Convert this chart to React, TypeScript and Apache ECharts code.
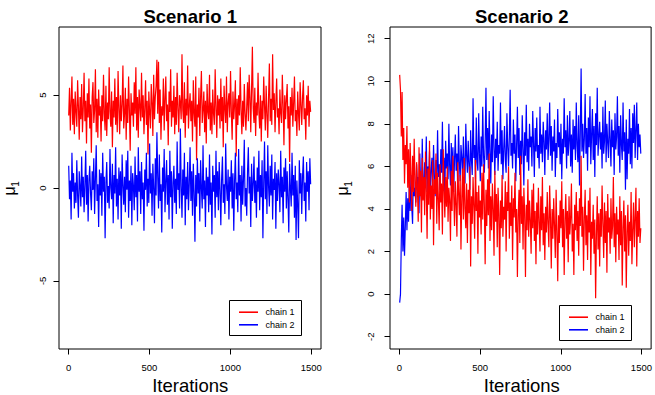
import React, { useEffect, useRef } from "react";
import * as echarts from "echarts";

// ---- data (every 5th draw of 1500 iterations) ----
const thinStep = 5;
const chainNames = ["chain 1", "chain 2"];
const chainColors = ["#ff0000", "#0000ff"];
const panelTitles = ["Scenario 1", "Scenario 2"];
const xTicks = [0, 500, 1000, 1500];
const yTicksS1 = [-5, 0, 5];
const yTicksS2 = [-2, 0, 2, 4, 6, 8, 10, 12];

const s1Chain1 = [
  3.9, 5.4, 3.1, 4.6, 6.0, 3.4, 4.8, 2.9, 5.2, 4.1,
  3.3, 5.8, 4.4, 2.6, 4.9, 3.7, 5.6, 3.0, 4.3, 6.2,
  3.6, 4.7, 2.4, 5.1, 3.8, 5.9, 3.2, 4.5, 1.9, 4.9,
  5.7, 3.5, 4.2, 6.4, 3.0, 4.8, 2.7, 5.3, 3.9, 4.4,
  2.5, 5.0, 3.6, 6.1, 4.0, 3.1, 5.5, 2.8, 4.6, 3.7,
  6.5, 4.1, 3.3, 5.2, 2.2, 4.7, 3.8, 5.9, 3.4, 4.9,
  3.0, 6.3, 4.3, 2.9, 5.0, 3.6, 4.5, 6.6, 3.2, 4.0,
  5.4, 2.6, 4.8, 3.5, 6.0, 4.2, 2.0, 5.1, 3.9, 4.6,
  3.3, 5.7, 4.0, 6.5, 3.1, 4.9, 2.7, 5.3, 4.4, 3.6,
  6.2, 3.8, 5.0, 2.9, 4.3, 5.8, 3.4, 4.7, 1.8, 5.2,
  4.1, 3.2, 5.6, 4.6, 2.8, 6.1, 3.7, 4.9, 5.5, 6.9,
  4.0, 6.8, 3.5, 5.3, 2.6, 4.4, 3.9, 5.9, 3.1, 4.8,
  6.0, 3.6, 4.5, 2.3, 5.2, 4.1, 6.4, 3.3, 4.7, 3.8,
  5.5, 2.9, 4.9, 3.4, 6.2, 4.3, 3.0, 5.0, 4.6, 3.7,
  7.2, 4.2, 3.5, 5.7, 2.7, 4.8, 3.9, 6.6, 3.2, 4.4,
  5.1, 3.6, 4.7, 2.5, 5.8, 4.0, 3.3, 6.0, 1.5, 4.5,
  3.8, 5.4, 2.8, 4.9, 6.3, 3.5, 4.2, 5.2, 3.0, 4.7,
  2.4, 5.6, 4.1, 3.7, 6.1, 3.1, 4.6, 2.9, 5.3, 4.0,
  3.4, 6.4, 4.4, 2.7, 5.0, 3.9, 4.8, 3.2, 5.9, 3.6,
  4.9, 2.2, 5.5, 4.3, 3.5, 6.0, 3.0, 4.6, 5.1, 3.8,
  6.3, 4.1, 2.6, 5.2, 3.7, 4.5, 5.8, 1.7, 4.8, 3.4,
  5.0, 3.9, 6.5, 4.2, 2.9, 4.7, 3.3, 5.6, 4.0, 3.1,
  4.4, 5.7, 3.6, 6.1, 4.9, 3.0, 5.3, 7.6, 4.3, 3.5,
  5.4, 2.8, 4.6, 3.9, 6.2, 4.1, 3.2, 5.0, 2.5, 4.7,
  3.7, 6.0, 4.4, 3.1, 5.5, 4.0, 2.7, 4.9, 6.7, 3.6,
  4.8, 3.4, 7.2, 4.2, 5.1, 3.0, 4.6, 5.9, 3.8, 4.3,
  2.9, 5.3, 4.0, 3.5, 6.1, 4.5, 2.3, 5.0, 3.7, 4.8,
  5.6, 3.2, 4.4, 1.4, 4.9, 3.9, 5.4, 3.3, 4.6, 6.0,
  3.6, 4.2, 2.8, 5.2, 4.0, 3.1, 5.7, 4.5, 3.4, 4.9,
  5.8, 3.7, 4.3, 2.6, 5.0, 3.9, 5.5, 3.3, 4.7, 4.1,
];

const s1Chain2 = [
  1.2, -0.6, 0.4, -1.7, 1.9, -0.2, 0.8, -1.1, 0.3, -0.8,
  1.5, -0.4, -1.6, 0.9, 0.1, -1.0, 1.7, -0.5, 0.6, -1.3,
  0.2, 2.0, -0.9, 0.7, -1.8, 0.4, 1.2, -0.3, -1.2, 0.9,
  -0.1, 1.6, -1.4, 0.5, 2.3, -0.7, 0.2, -2.1, 1.0, -0.4,
  0.8, -1.5, 1.9, -0.2, 0.6, -2.7, 0.3, 1.4, -0.8, 0.1,
  -1.1, 2.1, 0.0, -0.6, 1.3, -1.9, 0.7, -0.3, 2.2, -1.0,
  0.5, -1.7, 1.1, -0.4, 0.9, -2.2, 1.8, 0.2, -0.9, 0.6,
  -1.3, 1.5, -0.1, 2.0, -1.6, 0.4, -0.7, 1.2, -2.0, 0.8,
  0.1, -1.2, 1.7, -0.5, 0.7, -1.8, 2.2, -0.2, 0.9, -1.4,
  1.4, -0.6, 0.3, -2.3, 1.0, -0.1, 1.9, -1.0, 0.5, -0.8,
  2.4, -0.3, 0.8, -1.5, 1.3, 0.0, -1.9, 1.6, -0.4, 3.0,
  0.6, -1.1, 1.8, -0.7, 0.2, -2.4, 1.1, -0.2, 2.1, -1.3,
  0.4, 1.5, -0.9, 0.7, -1.7, 2.0, -0.5, 0.9, -2.2, 0.3,
  1.2, -0.8, 0.5, -1.4, 2.5, -0.1, 0.8, -1.1, 3.2, 0.1,
  -1.6, 1.0, -0.4, 1.9, -2.0, 0.6, -0.6, 1.4, -1.2, 0.2,
  2.2, -0.7, 0.9, -1.5, 1.3, -0.2, -2.9, 0.7, -1.0, 1.6,
  -0.3, 0.8, -1.8, 1.5, 0.0, -1.1, 2.3, -0.6, 0.4, -2.1,
  1.1, -0.4, 0.6, -1.3, 1.8, -0.9, 0.3, -2.5, 1.2, -0.2,
  0.7, -1.6, 2.0, -0.5, 0.9, -1.2, 1.4, -0.1, -2.0, 0.5,
  1.7, -0.8, 0.2, -1.4, 2.4, 0.1, -0.7, 1.0, -1.7, 0.6,
  -0.2, 1.5, -1.1, 0.8, -2.3, 0.4, 1.9, -0.6, 0.3, -1.3,
  2.1, -0.4, 0.7, -1.8, 1.2, -0.9, 0.5, 2.6, -1.0, 0.0,
  -1.5, 0.9, 2.2, -0.3, 0.6, -2.1, 1.3, -0.7, 0.2, 1.7,
  -0.8, 0.4, -1.6, 1.1, -0.2, 2.0, -1.2, 0.7, -0.5, 1.5,
  -2.7, 0.3, 2.5, -0.6, 0.9, -1.4, 2.3, 0.1, -1.0, 1.2,
  -0.4, 1.8, -1.7, 0.5, -0.1, 1.4, -2.2, 0.8, -0.7, 1.0,
  0.2, -1.3, 2.0, -0.5, 0.6, -1.9, 1.1, -0.2, 1.6, -1.1,
  0.9, -0.6, -2.4, 1.3, 0.0, -1.0, 1.9, -0.4, 0.7, -1.6,
  1.2, -2.8, 0.4, -0.9, -2.7, 1.5, -0.3, 0.8, -1.4, 0.6,
  1.7, -0.7, 0.3, -1.8, 1.4, -0.2, 0.9, -1.2, 1.6, 0.2,
];

const s2Chain1 = [
  10.3, 9.6, 7.4, 9.5, 6.3, 7.8, 5.2, 7.0, 6.1, 7.9,
  5.0, 6.8, 4.3, 7.1, 5.6, 3.9, 6.5, 4.8, 7.3, 5.3,
  4.1, 6.2, 5.0, 3.4, 6.9, 4.6, 5.8, 2.9, 6.4, 4.4,
  5.5, 3.7, 6.7, 4.9, 2.6, 5.9, 4.2, 7.2, 3.5, 5.1,
  4.0, 6.3, 2.3, 5.4, 4.7, 6.6, 3.3, 5.7, 4.5, 3.0,
  6.1, 4.3, 5.2, 2.8, 6.8, 4.9, 3.6, 5.5, 4.1, 6.0,
  3.4, 5.0, 4.4, 2.5, 5.8, 3.9, 6.5, 4.7, 3.2, 5.3,
  4.2, 2.7, 6.2, 4.8, 3.7, 5.6, 2.1, 4.5, 5.9, 3.5,
  6.4, 4.0, 3.1, 5.2, 2.4, 4.9, 3.8, 6.0, 1.3, 4.6,
  3.3, 5.5, 4.1, 2.6, 6.3, 3.9, 4.8, 1.9, 5.1, 3.6,
  4.4, 2.8, 5.7, 3.5, 6.1, 4.2, 1.4, 4.9, 3.2, 5.4,
  3.7, 6.6, 2.5, 4.6, 3.0, 5.2, 4.0, 1.8, 5.8, 3.4,
  4.7, 2.2, 5.0, 3.8, 0.9, 4.4, 3.1, 5.6, 2.7, 4.1,
  3.5, 5.3, 2.0, 4.8, 3.9, 6.0, 2.6, 4.3, 3.2, 5.1,
  1.6, 4.5, 3.6, 5.7, 2.9, 4.0, 0.8, 3.7, 4.9, 2.4,
  6.5, 3.3, 4.6, 2.1, 5.0, 3.8, 0.8, 4.2, 3.0, 5.4,
  2.7, 4.4, 3.5, 1.9, 4.9, 3.1, 5.2, 2.5, 3.9, 1.4,
  4.3, 2.8, 5.0, 3.4, 2.0, 4.6, 3.0, 5.5, 2.3, 3.8,
  1.6, 4.1, 2.9, 4.8, 3.3, 2.2, 5.1, 3.6, 1.2, 4.0,
  2.6, 4.5, 3.2, 1.7, 4.9, 2.9, 0.6, 3.7, 2.4, 4.4,
  3.1, 5.3, 2.2, 4.0, 0.9, 3.5, 4.7, 2.6, 3.9, 1.5,
  4.6, 2.8, 3.6, 5.2, 2.0, 3.3, 0.9, 4.2, 3.0, 4.8,
  2.5, 3.9, 1.8, 4.5, 3.2, 6.5, 2.7, 4.1, 1.1, 3.6,
  4.9, 2.3, 3.7, 1.6, 4.4, 2.9, 5.0, 0.9, 3.4, 2.6,
  4.2, 1.9, 3.5, -0.2, 2.8, 4.6, 2.1, 3.8, 1.3, 4.0,
  2.7, 5.1, 3.3, 1.7, 4.3, 2.4, 3.9, 1.0, 4.7, 2.9,
  3.6, 1.9, 4.5, 2.6, 3.2, 5.5, 2.2, 3.8, 1.5, 4.1,
  2.8, 3.5, 1.6, 4.6, 2.3, 3.9, 0.4, 3.1, 4.4, 2.0,
  3.7, 0.3, 2.9, 4.2, 1.8, 3.4, 2.5, 4.8, 1.4, 3.0,
  4.3, 2.2, 3.6, 5.0, 1.3, 3.9, 2.7, 4.5, 2.4, 3.1,
];

const s2Chain2 = [
  -0.4, 0.0, 2.5, 4.2, 2.0, 3.6, 1.8, 3.2, 4.8, 3.0,
  4.5, 3.4, 5.2, 3.9, 5.6, 4.1, 3.3, 5.9, 4.6, 5.0,
  4.3, 6.1, 4.9, 5.5, 3.8, 6.6, 5.0, 4.4, 7.3, 5.3,
  4.7, 6.2, 5.4, 7.4, 4.8, 6.0, 5.1, 6.7, 4.5, 5.8,
  6.4, 5.0, 7.0, 5.6, 4.6, 6.3, 5.3, 7.7, 5.5, 6.1,
  4.9, 6.8, 5.7, 8.1, 5.2, 6.4, 4.7, 7.2, 5.9, 6.6,
  5.4, 8.0, 6.0, 5.1, 7.1, 5.6, 6.9, 4.8, 6.3, 7.5,
  5.8, 6.6, 5.0, 7.9, 6.2, 5.3, 7.0, 6.4, 5.5, 7.4,
  6.0, 5.2, 8.0, 6.5, 5.7, 7.2, 6.1, 4.9, 7.7, 6.3,
  5.6, 9.2, 6.4, 7.0, 5.4, 8.3, 6.2, 5.8, 8.5, 6.6,
  5.3, 7.4, 6.0, 8.8, 6.5, 5.7, 7.1, 9.7, 6.3, 7.8,
  5.9, 8.6, 6.7, 5.2, 7.5, 6.2, 9.3, 6.9, 5.6, 7.3,
  6.4, 8.1, 5.8, 7.0, 6.6, 9.0, 6.1, 7.7, 5.4, 6.8,
  7.9, 6.3, 5.7, 8.5, 6.9, 6.0, 7.4, 9.6, 6.5, 7.1,
  5.9, 8.2, 6.6, 7.5, 5.3, 7.0, 8.8, 6.4, 7.8, 5.6,
  7.2, 6.1, 8.4, 6.8, 5.1, 7.6, 6.5, 8.9, 6.2, 7.3,
  5.8, 8.0, 6.9, 7.4, 6.0, 8.6, 7.1, 5.5, 7.8, 6.7,
  8.3, 6.4, 7.0, 5.9, 8.8, 6.6, 7.5, 6.2, 8.1, 7.2,
  5.6, 7.7, 6.8, 8.5, 6.3, 7.3, 9.0, 6.5, 7.9, 5.8,
  7.4, 6.7, 8.2, 5.5, 7.1, 6.4, 8.7, 6.9, 7.6, 6.1,
  8.0, 5.4, 7.3, 6.6, 9.2, 6.9, 7.7, 5.9, 8.4, 6.5,
  7.2, 8.6, 6.0, 7.5, 5.7, 8.2, 6.8, 7.9, 6.3, 9.0,
  7.0, 6.2, 8.4, 5.1, 7.6, 10.6, 6.7, 8.0, 6.4, 7.3,
  9.4, 6.6, 7.8, 5.8, 8.3, 6.9, 9.3, 6.1, 7.5, 8.7,
  6.3, 7.9, 5.5, 8.5, 7.0, 9.7, 6.5, 7.4, 8.1, 6.8,
  7.6, 5.9, 8.8, 6.6, 7.2, 9.1, 6.2, 8.0, 7.1, 6.4,
  8.6, 7.3, 6.0, 8.2, 6.9, 7.7, 5.6, 8.5, 6.8, 7.4,
  9.3, 6.5, 7.9, 5.7, 8.4, 7.0, 6.3, 9.0, 6.7, 7.6,
  4.9, 8.2, 5.4, 7.3, 6.6, 8.7, 6.1, 7.8, 5.9, 8.5,
  7.1, 8.9, 6.4, 7.7, 9.0, 6.3, 8.0, 6.9, 7.5, 6.6,
];

const FONT = "'Liberation Sans', Arial, Helvetica, sans-serif";

const toPairs = (vals: number[]) => vals.map((v, i) => [1 + i * thinStep, v]);

function makeLegend(x: number, y: number) {
  return [
    {
      type: "rect",
      z: 100,
      shape: { x, y, width: 72, height: 35 },
      style: { fill: "#ffffff", stroke: "#000000", lineWidth: 1 },
    },
    ...chainNames.flatMap((name, k) => [
      {
        type: "line",
        z: 101,
        shape: { x1: x + 9.5, y1: y + 11.7 + k * 12.6, x2: x + 28.5, y2: y + 11.7 + k * 12.6 },
        style: { stroke: chainColors[k], lineWidth: 1.6 },
      },
      {
        type: "text",
        z: 101,
        x: x + 36,
        y: y + 11.7 + k * 12.6,
        style: {
          text: name,
          fontFamily: FONT,
          fontSize: 9,
          fill: "#000000",
          textAlign: "left",
          textVerticalAlign: "middle",
        },
      },
    ]),
  ];
}

function muLabel(cx: number) {
  return [
    {
      type: "text",
      z: 100,
      x: cx,
      y: 191,
      rotation: Math.PI / 2,
      style: {
        text: "μ",
        fontFamily: FONT,
        fontSize: 16,
        fill: "#000000",
        textAlign: "center",
        textVerticalAlign: "middle",
      },
    },
    {
      type: "text",
      z: 100,
      x: cx + 5.5,
      y: 184,
      rotation: Math.PI / 2,
      style: {
        text: "1",
        fontFamily: FONT,
        fontSize: 10,
        fill: "#000000",
        textAlign: "center",
        textVerticalAlign: "middle",
      },
    },
  ];
}

function bigText(text: string, x: number, y: number, bold: boolean) {
  return {
    type: "text",
    z: 100,
    x,
    y,
    style: {
      text,
      fontFamily: FONT,
      fontSize: 18.5,
      fontWeight: bold ? "bold" : "normal",
      fill: "#000000",
      textAlign: "center",
      textVerticalAlign: "middle",
    },
  };
}

export default function App() {
  const ref = useRef<HTMLDivElement>(null);

  useEffect(() => {
    document.body.style.margin = "0";
    if (!ref.current) return;
    const chart = echarts.init(ref.current, undefined, { renderer: "svg" });

    const grids = [
      { left: 59, top: 27, width: 262, height: 322 },
      { left: 390, top: 27, width: 263, height: 322 },
    ];

    const xAxis = grids.map((_, g) => ({
      type: "value",
      gridIndex: g,
      min: -59,
      max: 1560,
      axisLine: { show: false, onZero: false },
      splitLine: { show: false },
      axisTick: {
        show: true,
        length: 5.5,
        customValues: xTicks,
        lineStyle: { color: "#000000", width: 1 },
      },
      axisLabel: {
        customValues: xTicks,
        formatter: (v: number) => String(v),
        fontFamily: FONT,
        fontSize: 9.5,
        color: "#000000",
        margin: 13,
      },
    }));

    const yTickSets = [yTicksS1, yTicksS2];
    const yRanges = [
      [-8.67, 8.67],
      [-2.58, 12.55],
    ];
    const yMargins = [12, 15];
    const yAxis = grids.map((_, g) => ({
      type: "value",
      gridIndex: g,
      min: yRanges[g][0],
      max: yRanges[g][1],
      axisLine: { show: false, onZero: false },
      splitLine: { show: false },
      axisTick: {
        show: true,
        length: 5.5,
        customValues: yTickSets[g],
        lineStyle: { color: "#000000", width: 1 },
      },
      axisLabel: {
        customValues: yTickSets[g],
        formatter: (v: number) => String(v),
        rotate: 90,
        fontFamily: FONT,
        fontSize: 9.5,
        color: "#000000",
        margin: yMargins[g],
      },
    }));

    const mkSeries = (name: string, color: string, g: number, vals: number[]) => ({
      type: "line",
      name,
      xAxisIndex: g,
      yAxisIndex: g,
      data: toPairs(vals),
      showSymbol: false,
      symbol: "none",
      silent: true,
      lineStyle: { color, width: 1.2 },
      itemStyle: { color },
    });

    chart.setOption({
      animation: false,
      backgroundColor: "#ffffff",
      grid: grids.map((g) => ({
        ...g,
        show: true,
        borderColor: "#000000",
        borderWidth: 1,
        backgroundColor: "transparent",
      })),
      xAxis,
      yAxis,
      series: [
        mkSeries(chainNames[0], chainColors[0], 0, s1Chain1),
        mkSeries(chainNames[1], chainColors[1], 0, s1Chain2),
        mkSeries(chainNames[1], chainColors[1], 1, s2Chain2),
        mkSeries(chainNames[0], chainColors[0], 1, s2Chain1),
      ],
      graphic: [
        bigText(panelTitles[0], 190.2, 16.5, true),
        bigText(panelTitles[1], 521.8, 16.5, true),
        bigText("Iterations", 190.2, 385.3, false),
        bigText("Iterations", 521.8, 385.3, false),
        ...muLabel(9.7),
        ...muLabel(342.7),
        ...makeLegend(229.5, 300.5),
        ...makeLegend(559.5, 305.5),
      ],
    });

    return () => chart.dispose();
  }, []);

  return <div ref={ref} style={{ width: 655, height: 395 }} />;
}
